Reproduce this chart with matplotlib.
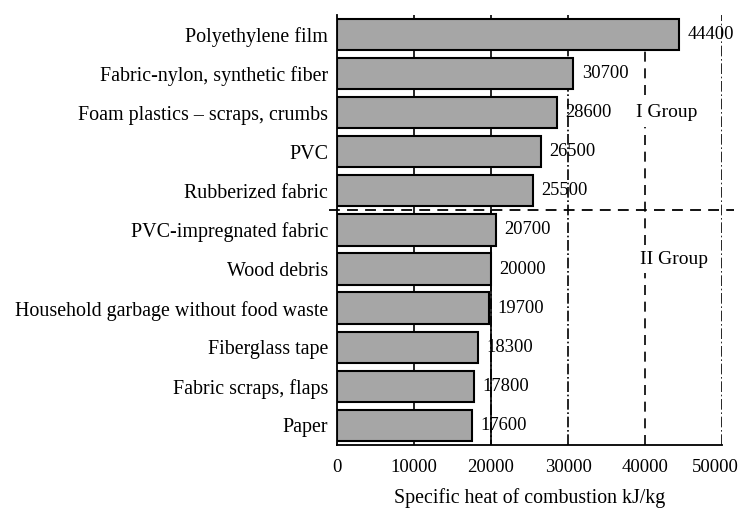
import matplotlib
matplotlib.use("Agg")
import matplotlib.pyplot as plt
from matplotlib.transforms import ScaledTranslation

plt.rcParams['font.family'] = ['Liberation Serif', 'DejaVu Serif']

materials = ["Polyethylene film", "Fabric-nylon, synthetic fiber",
             "Foam plastics \u2013 scraps, crumbs", "PVC", "Rubberized fabric",
             "PVC-impregnated fabric", "Wood debris",
             "Household garbage without food waste", "Fiberglass tape",
             "Fabric scraps, flaps", "Paper"]
heat = [44400, 30700, 28600, 26500, 25500, 20700, 20000, 19700, 18300, 17800, 17600]
xticks = [0, 10000, 20000, 30000, 40000, 50000]

fig = plt.figure(figsize=(7.4, 5.09), dpi=100)
ax = fig.add_axes([0.455, 0.126, 0.521, 0.8445])

y = list(range(len(materials)))
# solid grid behind bars, only seen in the gaps
for xv in [10000, 20000]:
    ax.axvline(xv, color='black', lw=1.2, zorder=0)
ax.plot([20000, 20000], [4.5, 10.5], color='black', lw=1.2, ls='-.', zorder=0)
ax.axvline(30000, color='black', lw=1.2, ls='-.', zorder=0)
ax.axvline(40000, color='black', lw=1.2, ls=(0, (6, 4)), zorder=0)
ax.axvline(50000, color='black', lw=1.2, ls='-.', zorder=0)

ax.barh(y, heat, height=0.8, color='#a6a6a6', edgecolor='black', lw=1.5, zorder=2)
for yi, v in zip(y, heat):
    ax.annotate(str(v), (v, yi), xytext=(6, 0), textcoords='offset points',
                va='center', ha='left', fontsize=13.3)

# group divider
ax.plot([-1000, 51500], [4.5, 4.5], color='black', lw=1.3, ls=(0, (6, 4)),
        clip_on=False, zorder=3)

ax.text(42800, 2.0, "I Group", fontsize=14, ha='center', va='center',
        bbox=dict(facecolor='white', edgecolor='none', pad=4), zorder=4)
ax.text(43700, 5.75, "II Group", fontsize=14, ha='center', va='center',
        bbox=dict(facecolor='white', edgecolor='none', pad=4), zorder=4)

ax.set_xlim(0, 50000)
ax.set_ylim(10.5, -0.5)
ax.set_yticks(y)
ax.set_yticklabels(materials, fontsize=14.4)
ax.set_xticks(xticks)
ax.set_xticklabels([str(t) for t in xticks], fontsize=13.5)
ax.tick_params(axis='x', length=0, pad=10)
ax.tick_params(axis='y', length=0, pad=6)
lab = ax.get_xticklabels()[-1]
lab.set_transform(lab.get_transform() + ScaledTranslation(-5 / 72, 0, fig.dpi_scale_trans))
ax.set_xlabel("Specific heat of combustion kJ/kg", fontsize=14.3, labelpad=9)

ax.spines['top'].set_visible(False)
ax.spines['right'].set_visible(False)
ax.spines['left'].set_linewidth(1.3)
ax.spines['bottom'].set_linewidth(1.3)

fig.savefig("out.png", dpi=100)
